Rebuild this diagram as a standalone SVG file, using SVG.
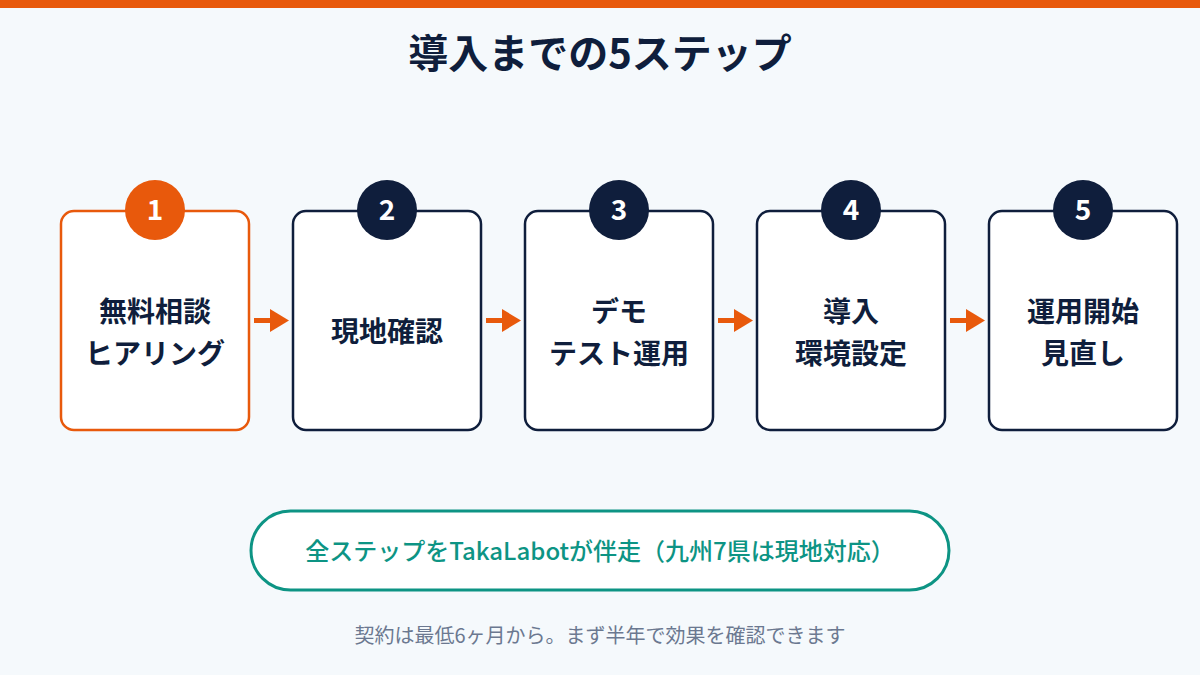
<svg xmlns="http://www.w3.org/2000/svg" width="1200" height="675" viewBox="0 0 1200 675">
<style>
.bg{fill:#f5f9fc}
.box{fill:#ffffff;stroke:#0f1e3c;stroke-width:2.5}
.box.act{stroke:#e8590c}
.badge{fill:#0f1e3c}
.badge.act{fill:#e8590c}
.num{font-family:"Noto Sans CJK JP","Noto Sans",sans-serif;font-weight:700;font-size:28px;fill:#ffffff;text-anchor:middle}
.lbl{font-family:"Noto Sans CJK JP",sans-serif;font-weight:700;font-size:28px;fill:#0f1e3c;text-anchor:middle}
.arr{stroke:#e8590c;stroke-width:5;fill:none}
.head{fill:#e8590c}
</style>
<rect class="bg" x="0" y="0" width="1200" height="675"/>
<rect x="0" y="0" width="1200" height="8" fill="#e8590c"/>
<text x="600" y="68" font-family="Noto Sans CJK JP, sans-serif" font-weight="700" font-size="40" fill="#0f1e3c" text-anchor="middle">導入までの5ステップ</text>

<g id="step1">
<rect class="box act" x="61" y="211" width="188" height="219" rx="13"/>
<circle class="badge act" cx="155" cy="210" r="30"/>
<text class="num" x="155" y="220">1</text>
<text class="lbl" x="155" y="322">無料相談</text>
<text class="lbl" x="155" y="364">ヒアリング</text>
</g>
<g id="step2">
<rect class="box" x="293" y="211" width="188" height="219" rx="13"/>
<circle class="badge" cx="387" cy="210" r="30"/>
<text class="num" x="387" y="220">2</text>
<text class="lbl" x="387" y="342">現地確認</text>
</g>
<g id="step3">
<rect class="box" x="525" y="211" width="188" height="219" rx="13"/>
<circle class="badge" cx="619" cy="210" r="30"/>
<text class="num" x="619" y="220">3</text>
<text class="lbl" x="619" y="322">デモ</text>
<text class="lbl" x="619" y="364">テスト運用</text>
</g>
<g id="step4">
<rect class="box" x="757" y="211" width="188" height="219" rx="13"/>
<circle class="badge" cx="851" cy="210" r="30"/>
<text class="num" x="851" y="220">4</text>
<text class="lbl" x="851" y="322">導入</text>
<text class="lbl" x="851" y="364">環境設定</text>
</g>
<g id="step5">
<rect class="box" x="989" y="211" width="188" height="219" rx="13"/>
<circle class="badge" cx="1083" cy="210" r="30"/>
<text class="num" x="1083" y="220">5</text>
<text class="lbl" x="1083" y="322">運用開始</text>
<text class="lbl" x="1083" y="364">見直し</text>
</g>

<g id="connectors">
<line class="arr" x1="254" y1="320.5" x2="272" y2="320.5"/>
<polygon class="head" points="270,309 289,320.5 270,332"/>
<line class="arr" x1="486" y1="320.5" x2="504" y2="320.5"/>
<polygon class="head" points="502,309 521,320.5 502,332"/>
<line class="arr" x1="718" y1="320.5" x2="736" y2="320.5"/>
<polygon class="head" points="734,309 753,320.5 734,332"/>
<line class="arr" x1="950" y1="320.5" x2="968" y2="320.5"/>
<polygon class="head" points="966,309 985,320.5 966,332"/>
</g>

<g id="note">
<rect x="251" y="511" width="698" height="79" rx="39.5" fill="#ffffff" stroke="#0d9484" stroke-width="3"/>
<text x="600" y="560" font-family="Noto Sans CJK JP, sans-serif" font-weight="500" font-size="24" fill="#0d9484" text-anchor="middle">全ステップをTakaLabotが伴走（九州7県は現地対応）</text>
</g>
<text x="600" y="643" font-family="Noto Sans CJK JP, sans-serif" font-size="20" fill="#6b7890" text-anchor="middle">契約は最低6ヶ月から。まず半年で効果を確認できます</text>
</svg>
